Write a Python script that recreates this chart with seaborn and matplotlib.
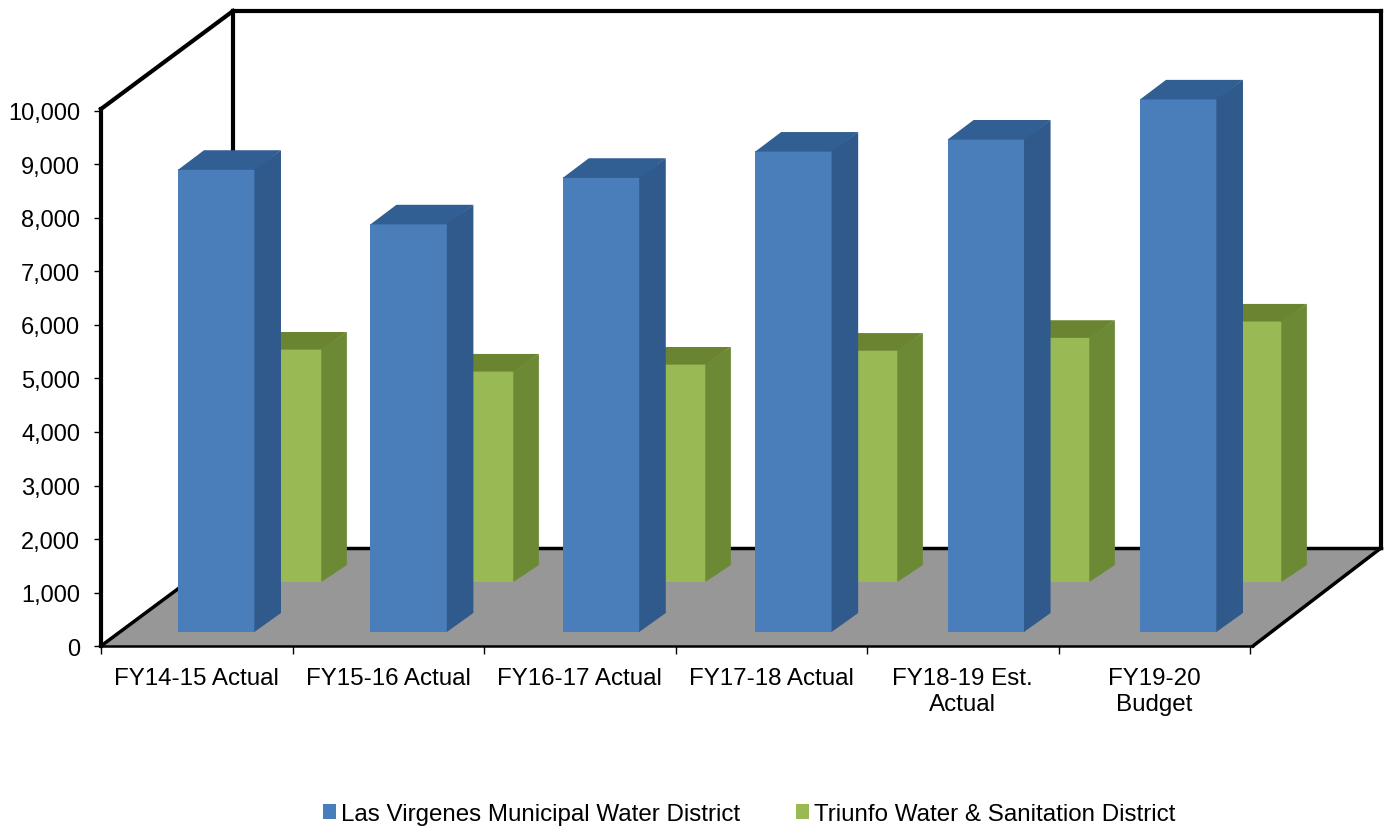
import matplotlib
matplotlib.use("Agg")
import matplotlib.pyplot as plt
import seaborn as sns
from matplotlib.patches import Polygon
from matplotlib.transforms import Affine2D, IdentityTransform

# 图表数据
categories = ["FY14-15 Actual", "FY15-16 Actual", "FY16-17 Actual",
              "FY17-18 Actual", "FY18-19 Est.\nActual", "FY19-20\nBudget"]
las_virgenes = [8650, 7630, 8500, 8990, 9215, 9965]
triunfo = [4355, 3945, 4075, 4335, 4575, 4880]
y_ticks = [0, 1000, 2000, 3000, 4000, 5000, 6000, 7000, 8000, 9000, 10000]

W, H = 1386, 828
BLUE, BLUE_SIDE, BLUE_TOP = "#4a7ebb", "#305a8c", "#315f93"
GREEN, GREEN_SIDE, GREEN_TOP = "#98b954", "#6c8a35", "#6a8431"

sns.set_theme(style="white")
plt.rcParams["font.family"] = ["Liberation Sans", "DejaVu Sans"]

fig = plt.figure(figsize=(W / 100, H / 100), dpi=100)
# 像素坐标 (原点在左上角)
px = Affine2D().scale(1 / W, -1 / H).translate(0, 1) + fig.transFigure


def plane_axes(left, right, bottom, zorder):
    top = bottom - 535
    ax = fig.add_axes([left / W, 1 - bottom / H, (right - left) / W, (bottom - top) / H])
    ax.set_zorder(zorder)
    ax.patch.set_alpha(0)
    return ax


def draw_bars(ax, values, color, side, top, label, dx, dy):
    sns.barplot(x=categories, y=values, ax=ax, color=color, saturation=1, width=0.4,
                label=label, linewidth=0)
    ax.get_legend().remove()
    ax.set_ylim(0, 10000)
    ax.set_xlim(-0.5, 5.5)
    ax.axis("off")
    # 侧面和顶面 (略微压住正面, 避免接缝)
    for bar in list(ax.patches):
        x0, y0 = ax.transData.transform((bar.get_x(), 0))
        x1, y1 = ax.transData.transform((bar.get_x() + bar.get_width(), bar.get_height()))
        side_pts = [(x1 - 0.6, y0), (x1 + dx, y0 + dy), (x1 + dx, y1 + dy), (x1 - 0.6, y1)]
        top_pts = [(x0, y1 - 0.6), (x0 + dx, y1 + dy), (x1 + dx, y1 + dy), (x1, y1 - 0.6)]
        ax.add_patch(Polygon(top_pts, color=top, lw=0, transform=IdentityTransform(), clip_on=False))
        ax.add_patch(Polygon(side_pts, color=side, lw=0, transform=IdentityTransform(), clip_on=False))


# 坐标轴和背景框
ax = plane_axes(101, 1250, 647, 0)
ax.set_xlim(-0.5, 5.5)
ax.set_ylim(0, 10000)
ax.set_yticks(y_ticks)
ax.set_yticklabels([f"{v:,}" for v in y_ticks], fontsize=17, color="black")
ax.set_xticks([i - 0.5 for i in range(7)])
ax.set_xticklabels([])
ax.set_xticks(range(6), labels=categories, minor=True, fontsize=17.4, color="black")
for label in ax.get_xticklabels(minor=True):
    label.set_linespacing(1.25)
ax.tick_params(axis="y", length=5, width=1, color="black", left=True, pad=10)
ax.tick_params(axis="x", which="major", length=6, width=1, color="black", bottom=True)
ax.tick_params(axis="x", which="minor", length=0, pad=15)
for name in ["top", "right", "bottom", "left"]:
    ax.spines[name].set_visible(False)

ax.add_patch(Polygon([(101, 647), (1253, 647), (1381, 549), (233, 549)], color="#979797", lw=0,
                     transform=px, clip_on=False))
frame = [
    ([101, 101], [110, 647], 3.0),
    ([101, 233], [110, 12], 3.0),
    ([233, 1381], [12, 12], 3.0),
    ([233, 233], [12, 549], 3.0),
    ([1381, 1381], [12, 549], 3.0),
    ([233, 1381], [549, 549], 2.5),
    ([101, 233], [647, 549], 2.5),
    ([1253, 1381], [647, 549], 2.5),
]
for xs, ys, lw in frame:
    ax.plot(xs, ys, color="black", lw=lw, transform=px, clip_on=False, solid_capstyle="projecting")
ax.plot([101, 1253], [647, 647], color="black", lw=1.8, transform=px, clip_on=False)

# 绿色柱在后, 蓝色柱在前
ax_green = plane_axes(187.5, 1339.5, 583, 1)
draw_bars(ax_green, triunfo, GREEN, GREEN_SIDE, GREEN_TOP,
          "Triunfo Water & Sanitation District", 25, 17)
ax_blue = plane_axes(120.3, 1274.7, 633, 2)
draw_bars(ax_blue, las_virgenes, BLUE, BLUE_SIDE, BLUE_TOP,
          "Las Virgenes Municipal Water District", 26, 19)

h_blue, l_blue = ax_blue.get_legend_handles_labels()
h_green, l_green = ax_green.get_legend_handles_labels()
fig.legend(h_blue + h_green, l_blue + l_green, ncol=2, frameon=False, fontsize=17.4,
           loc="center", bbox_to_anchor=(749 / W, 1 - 815 / H), handlelength=0.54, handleheight=0.54,
           handletextpad=0.2, columnspacing=2.3, labelcolor="black")

fig.savefig("out.png")
